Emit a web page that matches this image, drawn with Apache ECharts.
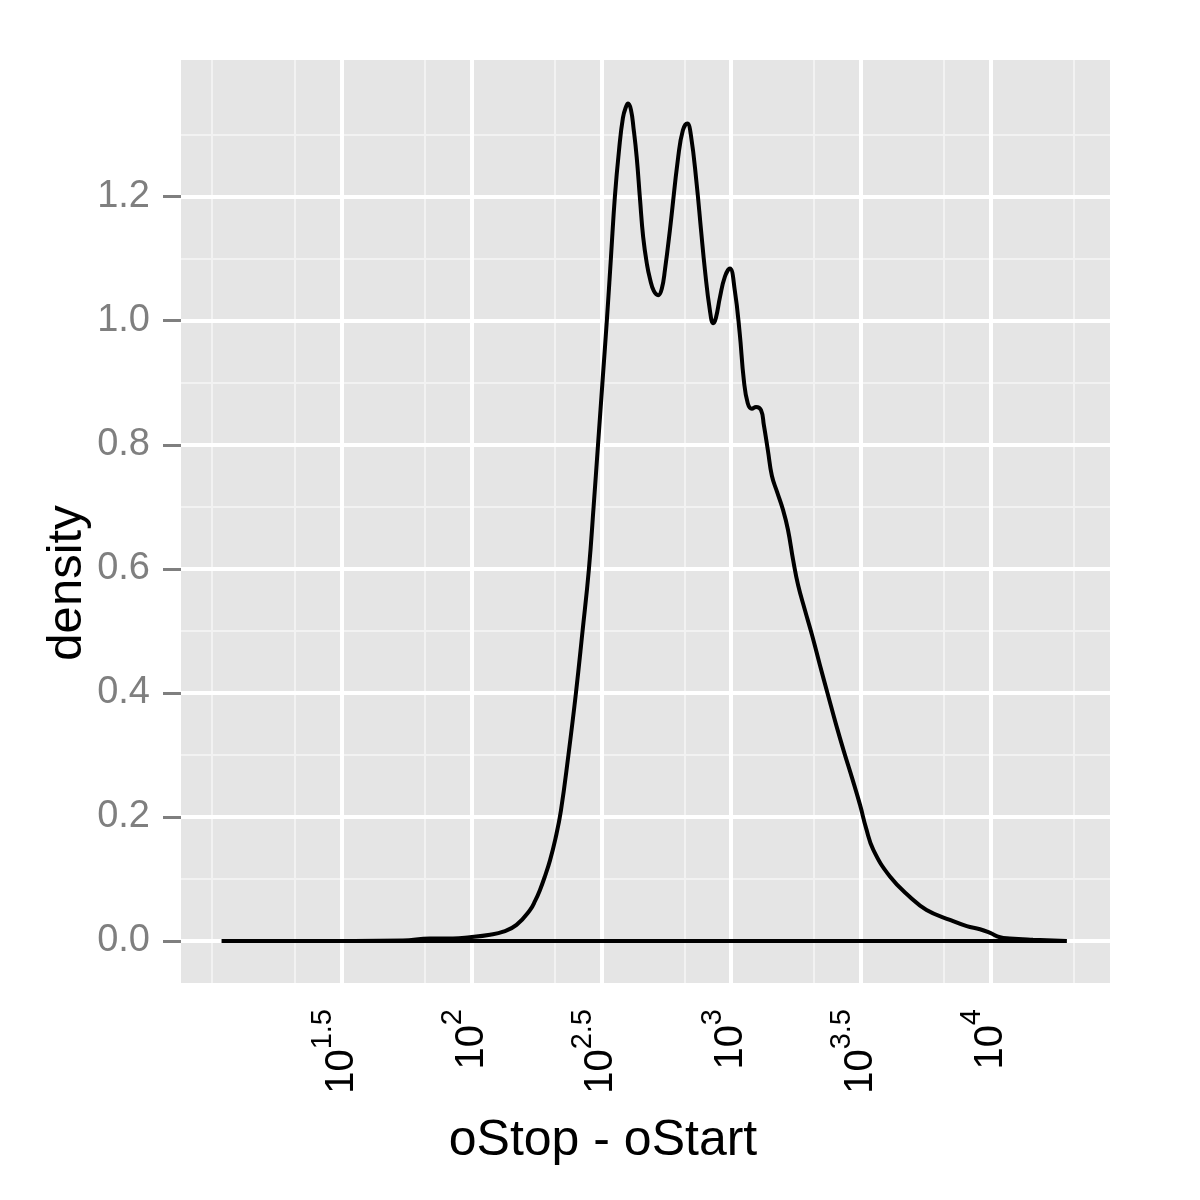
<!DOCTYPE html>
<html>
<head>
<meta charset="utf-8">
<script src="https://cdn.jsdelivr.net/npm/echarts@6/dist/echarts.min.js"></script>
<style>
html,body{margin:0;padding:0;background:#fff;}
#chart{width:1200px;height:1200px;}
</style>
</head>
<body>
<div id="chart"></div>
<script>
// x values are log10(oStop - oStart)
const curveLog = [1.037, 1.338, 1.735, 1.839, 1.928, 1.993, 2.071, 2.122, 2.173, 2.225, 2.245, 2.263, 2.283, 2.302, 2.323, 2.344, 2.373, 2.402, 2.427, 2.452, 2.470, 2.487, 2.504, 2.521, 2.537, 2.552, 2.568, 2.583, 2.595, 2.603, 2.614, 2.624, 2.636, 2.649, 2.661, 2.676, 2.687, 2.702, 2.719, 2.733, 2.745, 2.764, 2.796, 2.814, 2.831, 2.845, 2.867, 2.884, 2.899, 2.918, 2.931, 2.941, 2.957, 2.976, 2.995, 3.014, 3.033, 3.049, 3.064, 3.080, 3.096, 3.115, 3.126, 3.142, 3.157, 3.177, 3.200, 3.219, 3.239, 3.258, 3.284, 3.312, 3.342, 3.373, 3.405, 3.435, 3.466, 3.497, 3.520, 3.548, 3.612, 3.689, 3.753, 3.843, 3.908, 3.959, 3.998, 4.036, 4.074, 4.163, 4.293];
const curveDensity = [0, 0, 0.001, 0.004, 0.004, 0.006, 0.010, 0.015, 0.026, 0.050, 0.065, 0.082, 0.105, 0.130, 0.165, 0.210, 0.300, 0.400, 0.498, 0.600, 0.700, 0.800, 0.900, 1.000, 1.103, 1.200, 1.275, 1.327, 1.345, 1.350, 1.340, 1.310, 1.264, 1.195, 1.135, 1.090, 1.068, 1.048, 1.041, 1.052, 1.082, 1.146, 1.264, 1.307, 1.318, 1.299, 1.221, 1.146, 1.082, 1.017, 0.996, 1.004, 1.038, 1.071, 1.084, 1.049, 0.980, 0.904, 0.867, 0.858, 0.861, 0.856, 0.832, 0.790, 0.750, 0.724, 0.695, 0.663, 0.614, 0.574, 0.534, 0.493, 0.445, 0.397, 0.348, 0.305, 0.263, 0.219, 0.182, 0.147, 0.104, 0.071, 0.050, 0.034, 0.024, 0.019, 0.013, 0.006, 0.004, 0.002, 0];

const xTickExps = [1.5, 2, 2.5, 3, 3.5, 4];
const xMinorExps = [1.0, 1.318, 1.818, 2.318, 2.818, 3.318, 3.818, 4.318];
const yTicks = [0, 0.2, 0.4, 0.6, 0.8, 1.0, 1.2];
const yMinor = [0.1, 0.3, 0.5, 0.7, 0.9, 1.1, 1.3];
const xRange = [0.880, 4.460];
const yRange = [-0.0677, 1.4203];
const xTitle = 'oStop - oStart';
const yTitle = 'density';

const FONT = "'Liberation Sans', Arial, Helvetica, sans-serif";
const curve = curveLog.map((x, i) => [x, curveDensity[i]]);
const baseline = [[curveLog[0], 0], [curveLog[curveLog.length - 1], 0]];
const fmtExp = v => Number.isInteger(v) ? String(v) : v.toFixed(1);

const chart = echarts.init(document.getElementById('chart'), null, {renderer: 'canvas'});
chart.setOption({
  animation: false,
  backgroundColor: '#ffffff',
  grid: {left: 181, top: 60, width: 929, height: 923, show: true, backgroundColor: '#E5E5E5', borderWidth: 0, containLabel: false, outerBoundsMode: 'none'},
  xAxis: {
    type: 'value', min: xRange[0], max: xRange[1],
    axisLine: {show: false},
    splitLine: {show: false},
    axisTick: {show: true, customValues: xTickExps, length: 18, lineStyle: {color: '#7F7F7F', width: 3}},
    axisLabel: {
      show: true, customValues: xTickExps, rotate: 90, margin: 26,
      formatter: v => '{b|10}{s|' + fmtExp(v) + '}',
      rich: {
        b: {fontFamily: FONT, fontSize: 40, color: '#000', lineHeight: 40, verticalAlign: 'bottom'},
        s: {fontFamily: FONT, fontSize: 29, color: '#000', lineHeight: 29, verticalAlign: 'bottom', padding: [0, 0, 24, 0]}
      }
    }
  },
  yAxis: {
    type: 'value', min: yRange[0], max: yRange[1],
    axisLine: {show: false},
    splitLine: {show: false},
    axisTick: {show: true, customValues: yTicks, length: 18, lineStyle: {color: '#7F7F7F', width: 3}},
    axisLabel: {show: true, customValues: yTicks, margin: 31, formatter: v => v.toFixed(1), fontFamily: FONT, fontSize: 38, color: '#7F7F7F'}
  },
  graphic: [
    {type: 'text', x: 603, y: 1141, style: {text: xTitle, font: '50px ' + FONT, fill: '#000', align: 'center', verticalAlign: 'middle'}},
    {type: 'text', x: 67, y: 583, rotation: Math.PI / 2, style: {text: yTitle, font: '49px ' + FONT, fill: '#000', align: 'center', verticalAlign: 'middle'}}
  ],
  series: [
    {
      type: 'line', data: [[xRange[0], 0]], z: 1, symbol: 'none', silent: true,
      lineStyle: {opacity: 0},
      markLine: {
        silent: true, symbol: 'none', label: {show: false}, animation: false, z: 1,
        data: [
          ...xMinorExps.map(v => ({xAxis: v, lineStyle: {color: '#F2F2F2', width: 2, type: 'solid'}})),
          ...yMinor.map(v => ({yAxis: v, lineStyle: {color: '#F2F2F2', width: 2, type: 'solid'}})),
          ...xTickExps.map(v => ({xAxis: v, lineStyle: {color: '#FFFFFF', width: 4, type: 'solid'}})),
          ...yTicks.map(v => ({yAxis: v, lineStyle: {color: '#FFFFFF', width: 4, type: 'solid'}}))
        ]
      }
    },
    {
      type: 'line', data: baseline, z: 10, symbol: 'none', silent: true,
      lineStyle: {color: '#000', width: 4}
    },
    {
      type: 'line', data: curve, z: 11, symbol: 'none', silent: true, smooth: 0.45,
      lineStyle: {color: '#000', width: 4}
    }
  ]
});
</script>
</body>
</html>
